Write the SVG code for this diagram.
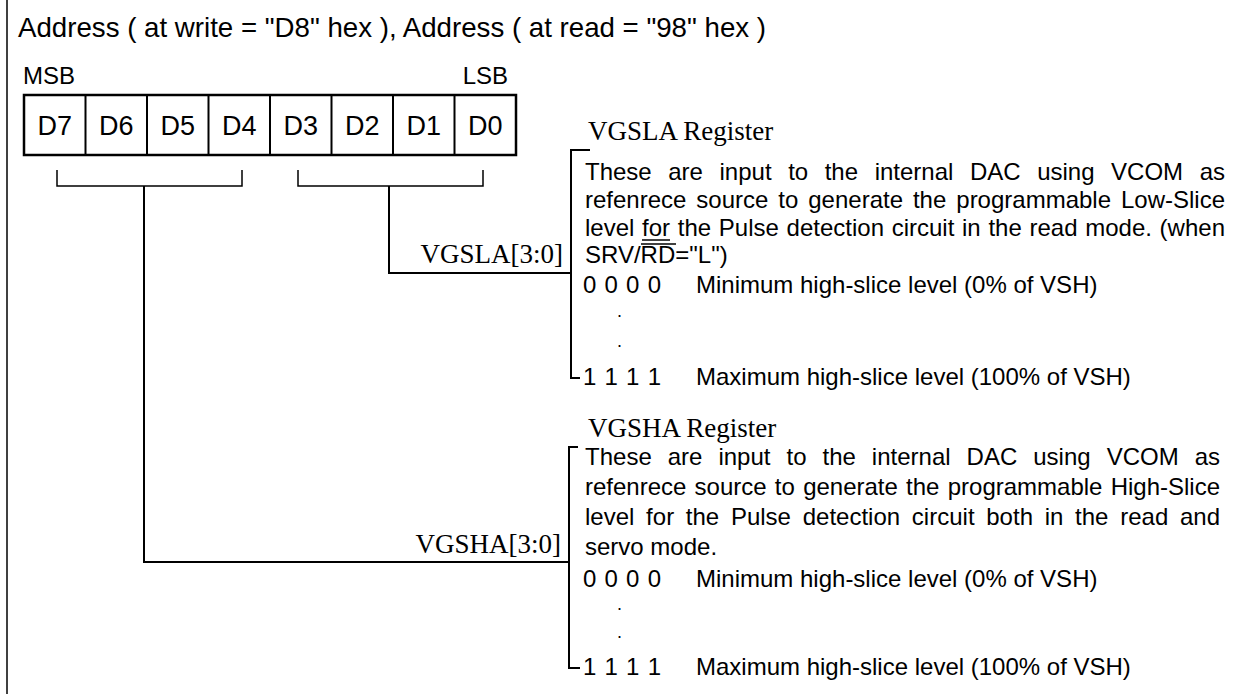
<svg xmlns="http://www.w3.org/2000/svg" width="1244" height="697" viewBox="0 0 1244 697">
<style>
  .bg{fill:#ffffff}
  .sans{font-family:"Liberation Sans",Arial,Helvetica,sans-serif;fill:#000}
  .serif{font-family:"Liberation Serif","Times New Roman",serif;fill:#000;font-size:27px}
  .title{font-size:28px}
  .ms{font-size:24px}
  .bit{font-size:27px;text-anchor:middle}
  .body{font-size:24px}
  .dot{font-size:18px}
  .ln{stroke:#000;stroke-width:2;fill:none}
  .thin{stroke:#000;stroke-width:1.5;fill:none}
  .box{stroke:#000;stroke-width:2.5;fill:#fff}
</style>
<rect class="bg" x="0" y="0" width="1244" height="697"/>
<line class="thin" x1="7" y1="0" x2="7" y2="694"/>

<g id="title">
  <text class="sans title" x="18" y="37" textLength="748" lengthAdjust="spacingAndGlyphs">Address ( at write = "D8" hex ), Address ( at read = "98" hex )</text>
</g>

<g id="register">
  <text class="sans ms" x="23" y="84">MSB</text>
  <text class="sans ms" x="508" y="84" text-anchor="end">LSB</text>
  <rect class="box" x="24" y="95" width="492" height="60"/>
  <path class="ln" d="M85.5,95V155M147,95V155M208.5,95V155M270,95V155M331.5,95V155M393,95V155M454.5,95V155"/>
  <text class="sans bit" x="54.8" y="135">D7</text>
  <text class="sans bit" x="116.3" y="135">D6</text>
  <text class="sans bit" x="177.8" y="135">D5</text>
  <text class="sans bit" x="239.3" y="135">D4</text>
  <text class="sans bit" x="300.8" y="135">D3</text>
  <text class="sans bit" x="362.3" y="135">D2</text>
  <text class="sans bit" x="423.8" y="135">D1</text>
  <text class="sans bit" x="485.3" y="135">D0</text>
</g>

<g id="connectors">
  <path class="thin" d="M57,170V186H242V170"/>
  <path class="thin" d="M298,170V186H483V170"/>
  <path class="ln" d="M144,186V562H570"/>
  <path class="ln" d="M389,186V273H571"/>
</g>

<g id="vgsla">
  <text class="serif" x="563" y="263" text-anchor="end">VGSLA[3:0]</text>
  <text class="serif" x="588" y="140">VGSLA Register</text>
  <path class="ln" d="M590,150H571V378H580"/>
  <text class="sans body" x="585" y="180" word-spacing="9.9" textLength="640" lengthAdjust="spacing">These are input to the internal DAC using VCOM as</text>
  <text class="sans body" x="585" y="208" word-spacing="3.3" textLength="640" lengthAdjust="spacing">refenrece source to generate the programmable Low-Slice</text>
  <text class="sans body" x="585" y="236" word-spacing="1" textLength="640" lengthAdjust="spacing">level for the Pulse detection circuit in the read mode. (when</text>
  <line class="thin" x1="642" y1="240" x2="670" y2="240"/>
  <text class="sans body" x="585" y="263">SRV/RD="L")</text>
  <line class="thin" x1="641" y1="244" x2="676" y2="244"/>
  <text class="sans body" x="583" y="293" textLength="78" lengthAdjust="spacing">0 0 0 0</text>
  <text class="sans body" x="696" y="293">Minimum high-slice level (0% of VSH)</text>
  <text class="sans dot" x="617" y="317">.</text>
  <text class="sans dot" x="617" y="347">.</text>
  <text class="sans body" x="583" y="385" textLength="78" lengthAdjust="spacing">1 1 1 1</text>
  <text class="sans body" x="696" y="385">Maximum high-slice level (100% of VSH)</text>
</g>

<g id="vgsha">
  <text class="serif" x="561" y="553" text-anchor="end">VGSHA[3:0]</text>
  <text class="serif" x="588" y="437">VGSHA Register</text>
  <path class="ln" d="M578,447H569V668H580"/>
  <text class="sans body" x="585" y="465" word-spacing="9.3" textLength="635" lengthAdjust="spacing">These are input to the internal DAC using VCOM as</text>
  <text class="sans body" x="585" y="495" word-spacing="1.6" textLength="635" lengthAdjust="spacing">refenrece source to generate the programmable High-Slice</text>
  <text class="sans body" x="585" y="525" word-spacing="5" textLength="635" lengthAdjust="spacing">level for the Pulse detection circuit both in the read and</text>
  <text class="sans body" x="585" y="555">servo mode.</text>
  <text class="sans body" x="583" y="587" textLength="78" lengthAdjust="spacing">0 0 0 0</text>
  <text class="sans body" x="696" y="587">Minimum high-slice level (0% of VSH)</text>
  <text class="sans dot" x="617" y="610">.</text>
  <text class="sans dot" x="617" y="638">.</text>
  <text class="sans body" x="583" y="675" textLength="78" lengthAdjust="spacing">1 1 1 1</text>
  <text class="sans body" x="696" y="675">Maximum high-slice level (100% of VSH)</text>
</g>
</svg>
